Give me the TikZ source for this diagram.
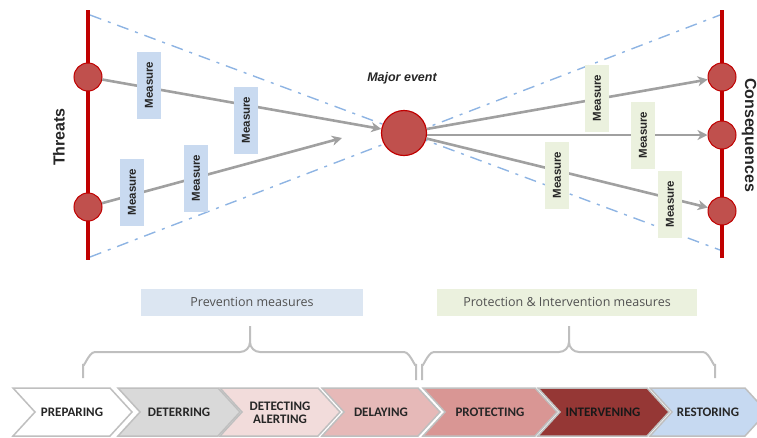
\documentclass[tikz,border=0pt]{standalone}
\usepackage{fontspec}
\setmainfont{Liberation Sans}
\newfontfamily\osans{Open Sans}
\newfontfamily\carl{Carlito}
\usetikzlibrary{arrows.meta}
\definecolor{redline}{HTML}{C00000}
\definecolor{redfill}{HTML}{C0504D}
\definecolor{arrgray}{HTML}{A0A0A0}
\definecolor{dashblue}{HTML}{8EB4E3}
\definecolor{mblue}{HTML}{C9DAF0}
\definecolor{mgreen}{HTML}{EBF1DE}
\definecolor{pblue}{HTML}{DCE6F2}
\definecolor{brgray}{HTML}{BFBFBF}
\definecolor{txt}{HTML}{262626}
\definecolor{cA}{HTML}{FFFFFF}
\definecolor{cB}{HTML}{D9D9D9}
\definecolor{cC}{HTML}{F2DCDB}
\definecolor{cD}{HTML}{E6B9B8}
\definecolor{cE}{HTML}{D99694}
\definecolor{cF}{HTML}{953735}
\definecolor{cG}{HTML}{C6D9F1}
\tikzset{
  redaxis/.style={draw=redline, line width=3.5pt},
  dot/.style={circle, draw=redline, line width=1pt, fill=redfill, minimum size=28pt, inner sep=0pt},
  bigdot/.style={circle, draw=redline, line width=1.2pt, fill=redfill, minimum size=45pt, inner sep=0pt},
  flow/.style={draw=arrgray, line width=2.6pt, -{Stealth[length=10pt,width=10pt,inset=3pt]}},
  bowtie/.style={draw=dashblue, line width=1.4pt, dash pattern=on 12pt off 7pt on 3pt off 7pt},
  measbox/.style={rotate=90, minimum width=67pt, minimum height=24pt, inner sep=0pt,
     font=\bfseries\fontsize{11.5}{13}\selectfont, text=txt},
  mleft/.style={measbox, fill=mblue},
  mright/.style={measbox, fill=mgreen},
  sidelabel/.style={font=\bfseries\fontsize{16}{18}\selectfont, text=txt},
  groupbox/.style={minimum height=27pt, inner sep=0pt, font=\osans\fontsize{12.5}{14}\selectfont, text=txt!80},
  bracestyle/.style={draw=brgray, line width=2pt},
  chev/.style={draw=brgray, line width=1.5pt, line join=miter},
  chevtext/.style={font=\carl\bfseries\fontsize{13}{15}\selectfont, text=txt, align=center}
}
\begin{document}
\begin{tikzpicture}[x=1pt,y=-1pt]
\useasboundingbox (0,0) rectangle (757,437);
\clip (0,0) rectangle (757,437);

% bow-tie dashed lines
\coordinate (d1) at (90,15);
\coordinate (d2) at (720,250);
\coordinate (d3) at (90,257);
\coordinate (d4) at (720,15);
\draw[bowtie] (d1) -- (d2);
\draw[bowtie] (d3) -- (d4);

% red axes
\coordinate (la) at (88,10);
\coordinate (lb) at (88,260);
\coordinate (ra) at (722,10);
\coordinate (rb) at (722,258);
\draw[redaxis] (la) -- (lb);
\draw[redaxis] (ra) -- (rb);

% circles
\node[dot] (t1) at (88,77) {};
\node[dot] (t2) at (88,207) {};
\node[dot] (c1) at (722,77) {};
\node[dot] (c2) at (722,135) {};
\node[dot] (c3) at (722,211) {};
\node[bigdot] (me) at (404,133) {};
\node[font=\bfseries\itshape\fontsize{12.5}{14}\selectfont, text=txt] (melabel) at (402,78) {Major event};

% arrows
\coordinate (t2end) at (342,138);
\draw[flow] (t1) -- (me);
\draw[flow] (t2) -- (t2end);
\draw[flow] (me) -- (c1);
\draw[flow] (me.east |- c2) -- (c2);
\draw[flow] (me) -- (c3);

% measure boxes
\node[mleft] (m1) at (149,85) {Measure};
\node[mleft] (m2) at (246,120) {Measure};
\node[mleft] (m3) at (132,192) {Measure};
\node[mleft] (m4) at (196,178) {Measure};
\node[mright] (m5) at (597,98) {Measure};
\node[mright] (m6) at (643,135) {Measure};
\node[mright] (m7) at (557,175) {Measure};
\node[mright] (m8) at (670,204) {Measure};

% side labels
\node[sidelabel, rotate=90] (threats) at (59,137) {Threats};
\node[sidelabel, rotate=-90] (cons) at (749,135) {Consequences};

% group boxes
\node[groupbox, fill=pblue, minimum width=222pt] (prev) at (252,302) {Prevention measures};
\node[groupbox, fill=mgreen, minimum width=260pt] (prot) at (567,302) {Protection \& Intervention measures};

% braces
\draw[bracestyle] (83,378) -- (83,364) to[out=-90,in=180] (95,352) -- (240,352)
   to[out=0,in=-90] (250,342) -- (250,326);
\draw[bracestyle] (250,342) to[out=-90,in=180] (260,352) -- (404,352)
   to[out=0,in=-90] (416,364) -- (416,380);
\draw[bracestyle] (422,380) -- (422,364) to[out=-90,in=180] (434,352) -- (559,352)
   to[out=0,in=-90] (569,342) -- (569,326);
\draw[bracestyle] (569,342) to[out=-90,in=180] (579,352) -- (703,352)
   to[out=0,in=-90] (715,364) -- (715,378);

% chevrons
\foreach \L/\R/\col/\nm in {13/110/cA/p1, 118/218/cB/p2, 220/318/cC/p3, 322/418/cD/p4, 423/535/cE/p5, 538/647/cF/p6, 650/745/cG/p7}{
  \draw[chev, fill=\col] (\L,388) -- (\R,388) -- (\R+22,412) -- (\R,436) -- (\L,436) -- (\L+22,412) -- cycle;
}
\node[chevtext] (s1) at (72,412) {PREPARING};
\node[chevtext] (s2) at (179,412) {DETERRING};
\node[chevtext] (s3) at (280,413) {DETECTING\\[-2pt]ALERTING};
\node[chevtext] (s4) at (381,412) {DELAYING};
\node[chevtext] (s5) at (490,412) {PROTECTING};
\node[chevtext, text=black!90] (s6) at (603,412) {INTERVENING};
\node[chevtext] (s7) at (708,412) {RESTORING};
\end{tikzpicture}
\end{document}
